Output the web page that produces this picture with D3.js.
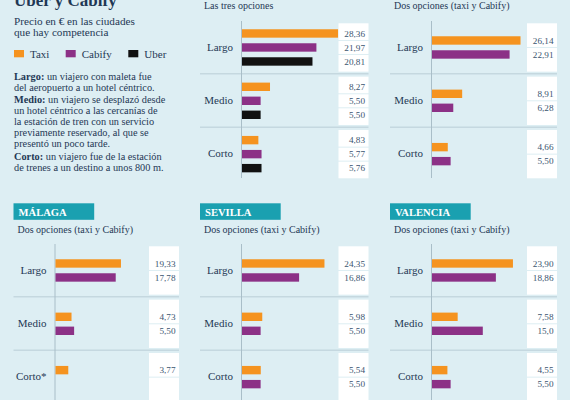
<!DOCTYPE html>
<html>
<head>
<meta charset="utf-8">
<script src="https://cdn.jsdelivr.net/npm/d3@7"></script>
<style>
  body { margin: 0; background: #ddeef3; }
  svg { display: block; }
</style>
</head>
<body>
<div id="chart"></div>
<script>
// data (prices in euros, as printed)
const categories = ["Largo", "Medio", "Corto"];
const seriesNames = ["Taxi", "Cabify", "Uber"];

const tresTaxi = ["28,36", "8,27", "4,83"];
const tresCabify = ["21,97", "5,50", "5,77"];
const tresUber = ["20,81", "5,50", "5,76"];

const dosTaxi = ["26,14", "8,91", "4,66"];
const dosCabify = ["22,91", "6,28", "5,50"];

const malagaTaxi = ["19,33", "4,73", "3,77"];
const malagaCabify = ["17,78", "5,50", null];

const sevillaTaxi = ["24,35", "5,98", "5,54"];
const sevillaCabify = ["16,86", "5,50", "5,50"];

const valenciaTaxi = ["23,90", "7,58", "4,55"];
const valenciaCabify = ["18,86", "15,0", "5,50"];

const colors = { Taxi: "#f5931f", Cabify: "#8c3186", Uber: "#111111" };
const bg = "#ddeef3", ink = "#1f3855", numInk = "#3a5570", rule = "#b9cdd6", teal = "#1aa0b0";
const serif = "'Liberation Serif', 'Times New Roman', serif";

const width = 570, height = 400;

const svg = d3.select("#chart").append("svg")
    .attr("width", width)
    .attr("height", height)
    .style("font-family", serif);

svg.append("rect").attr("width", width).attr("height", height).attr("fill", bg);

// column / row origins
const colX = [1.5, 188, 378];
const boxX = [149, 338.5, 527];   // value column left edge, relative to page
const rowY = [20, 243];

// same price scale for every panel
const x = d3.scaleLinear().domain([0, 30]).range([0, 101.6]);
const num = s => +s.replace(",", ".");

const panels = [
    { col: 1, row: 0, subtitle: "Las tres opciones", series: { Taxi: tresTaxi, Cabify: tresCabify, Uber: tresUber } },
    { col: 2, row: 0, subtitle: "Dos opciones (taxi y Cabify)", series: { Taxi: dosTaxi, Cabify: dosCabify } },
    { col: 0, row: 1, title: "MÁLAGA", subtitle: "Dos opciones (taxi y Cabify)", series: { Taxi: malagaTaxi, Cabify: malagaCabify }, labels: ["Largo", "Medio", "Corto*"] },
    { col: 1, row: 1, title: "SEVILLA", subtitle: "Dos opciones (taxi y Cabify)", series: { Taxi: sevillaTaxi, Cabify: sevillaCabify } },
    { col: 2, row: 1, title: "VALENCIA", subtitle: "Dos opciones (taxi y Cabify)", series: { Taxi: valenciaTaxi, Cabify: valenciaCabify } }
];

panels.forEach(drawPanel);

function drawPanel(p) {
    const ox = colX[p.col], oy = rowY[p.row];
    const g = svg.append("g").attr("transform", `translate(${ox},${oy})`);
    const axisX = 53;
    const bx0 = boxX[p.col] - ox, bx1 = bx0 + 30;
    const keys = Object.keys(p.series);

    const y = d3.scaleBand().domain(categories).range([0, 160]);

    if (p.title) {
        g.append("rect")
            .attr("x", 12).attr("y", -39.7)
            .attr("width", 80.7).attr("height", 16.5)
            .attr("fill", teal);
        g.append("text")
            .attr("x", 17).attr("y", -27)
            .attr("fill", "#fff")
            .attr("font-weight", "bold")
            .attr("font-size", 10.6)
            .text(p.title);
    }

    g.append("text")
        .attr("x", 16).attr("y", p.row === 0 ? -11.5 : -10)
        .attr("fill", ink)
        .attr("font-size", 10)
        .text(p.subtitle);

    // separators between sections
    g.selectAll(".sep")
        .data(categories.slice(1))
        .join("line")
        .attr("x1", 12).attr("x2", bx1)
        .attr("y1", d => y(d) + 0.5).attr("y2", d => y(d) + 0.5)
        .attr("stroke", rule);

    // vertical axis line
    g.append("line")
        .attr("x1", axisX + 0.5).attr("x2", axisX + 0.5)
        .attr("y1", 1).attr("y2", 158)
        .attr("stroke", "#a9bec8");

    categories.forEach((cat, ci) => {
        const top = y(cat), bottom = top + y.bandwidth();
        const c = top + y.bandwidth() / 2 + 0.8;
        const inner = d3.scaleBand().domain(keys)
            .range([c - 7 * keys.length, c + 7 * keys.length])
            .paddingInner(0.4).paddingOuter(0.2);
        const centers = keys.map(k => inner(k) + inner.bandwidth() / 2);

        // white value cells
        keys.forEach((k, i) => {
            const t = i === 0 ? top + 3.3 : (centers[i - 1] + centers[i]) / 2 + 0.5;
            const b = i === keys.length - 1 ? bottom - 1.7 : (centers[i] + centers[i + 1]) / 2 - 0.5;
            g.append("rect")
                .attr("x", bx0).attr("y", t)
                .attr("width", bx1 - bx0).attr("height", b - t)
                .attr("fill", "#fff");
        });

        // category label
        g.append("text")
            .attr("x", axisX - 8)
            .attr("y", top + y.bandwidth() / 2)
            .attr("dy", "0.35em")
            .attr("text-anchor", "end")
            .attr("fill", ink)
            .attr("font-size", 11)
            .text((p.labels || categories)[ci]);

        const rows = keys.map(k => ({ key: k, label: p.series[k][ci] })).filter(d => d.label !== null);

        g.selectAll(null)
            .data(rows)
            .join("rect")
            .attr("x", axisX + 1)
            .attr("y", d => inner(d.key))
            .attr("width", d => x(num(d.label)))
            .attr("height", inner.bandwidth())
            .attr("fill", d => colors[d.key]);

        g.selectAll(null)
            .data(rows)
            .join("text")
            .attr("x", bx1 - 3.5)
            .attr("y", d => inner(d.key) + inner.bandwidth() / 2)
            .attr("dy", "0.35em")
            .attr("text-anchor", "end")
            .attr("fill", numInk)
            .attr("font-size", 9.2)
            .text(d => d.label);
    });
}

// header block, top left
svg.append("text")
    .attr("x", 14).attr("y", 6)
    .attr("fill", ink)
    .attr("font-weight", "bold")
    .attr("font-size", 17)
    .text("Uber y Cabify");

svg.selectAll(".sub")
    .data(["Precio en € en las ciudades", "que hay competencia"])
    .join("text")
    .attr("x", 14)
    .attr("y", (d, i) => 25 + i * 11)
    .attr("fill", ink)
    .attr("font-size", 11.2)
    .text(d => d);

// legend
const legendX = [14, 65.7, 128.3];
const legend = svg.selectAll(".leg")
    .data(seriesNames)
    .join("g")
    .attr("transform", (d, i) => `translate(${legendX[i]},50)`);
legend.append("rect")
    .attr("width", 10).attr("height", 7.3)
    .attr("fill", d => colors[d]);
legend.append("text")
    .attr("x", 16).attr("y", 7.5)
    .attr("fill", ink)
    .attr("font-size", 11)
    .text(d => d);

// explanation notes
const notes = [
    { lead: "Largo:", lines: [" un viajero con maleta fue", "del aeropuerto a un hotel céntrico."] },
    { lead: "Medio:", lines: [" un viajero se desplazó desde", "un hotel céntrico a las cercanías de", "la estación de tren con un servicio", "previamente reservado, al que se", "presentó un poco tarde."] },
    { lead: "Corto:", lines: [" un viajero fue de la estación", "de trenes a un destino a unos 800 m."] }
];
let ny = 79.5;
notes.forEach(n => {
    n.lines.forEach((line, i) => {
        const t = svg.append("text")
            .attr("x", 14).attr("y", ny)
            .attr("fill", ink)
            .attr("font-size", 10.3);
        if (i === 0) t.append("tspan").attr("font-weight", "bold").text(n.lead);
        t.append("tspan").text(line);
        ny += 11;
    });
    ny += 1.5;
});
</script>
</body>
</html>
